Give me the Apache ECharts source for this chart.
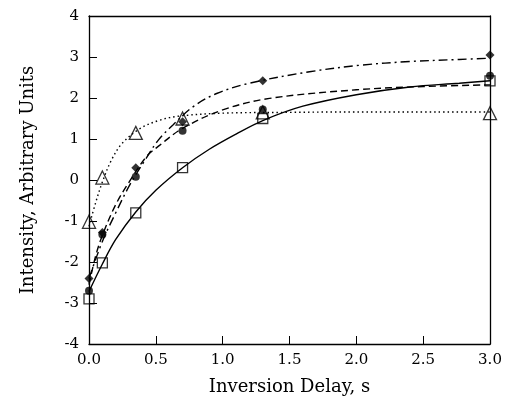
<!DOCTYPE html>
<html>
<head>
<meta charset="utf-8">
<script src="https://cdn.jsdelivr.net/npm/echarts@6/dist/echarts.min.js"></script>
<style>
  html, body { margin: 0; padding: 0; background: #fff; }
  #main { width: 506px; height: 401px; }
</style>
</head>
<body>
<div id="main"></div>
<script>
// measured delays (s)
var delays = [0, 0.1, 0.35, 0.7, 1.3, 3.0];

// measured intensities, one list per sample
var squares   = [-2.9, -2.02, -0.8, 0.3, 1.5, 2.42];
var circles   = [-2.7, -1.33, 0.08, 1.2, 1.72, 2.54];
var diamonds  = [-2.4, -1.28, 0.3, 1.42, 2.42, 3.05];
var triangles = [-1.02, 0.06, 1.15, 1.5, 1.65, 1.63];

// fitted curves as [delay, intensity]
var fitSolid = [[0, -2.72], [0.1, -2.05], [0.2, -1.45], [0.35, -0.78], [0.5, -0.25],
  [0.7, 0.3], [0.9, 0.75], [1.1, 1.12], [1.3, 1.45], [1.6, 1.8], [2.0, 2.08],
  [2.4, 2.27], [2.77, 2.36], [3.0, 2.42]];
var fitDashed = [[0, -2.55], [0.05, -1.85], [0.1, -1.35], [0.2, -0.6], [0.3, -0.05],
  [0.43, 0.57], [0.53, 0.85], [0.7, 1.26], [1.0, 1.71], [1.35, 1.99], [2.0, 2.2],
  [2.5, 2.28], [3.0, 2.32]];
var fitDashDot = [[0, -2.4], [0.1, -1.5], [0.2, -0.8], [0.3, -0.15], [0.42, 0.49],
  [0.52, 0.98], [0.63, 1.35], [0.78, 1.79], [0.955, 2.11], [1.2, 2.36], [1.65, 2.64],
  [2.03, 2.8], [2.4, 2.89], [2.77, 2.94], [3.0, 2.97]];
var fitDotted = [[0, -1.13], [0.05, -0.55], [0.1, -0.05], [0.17, 0.5], [0.25, 0.9],
  [0.38, 1.25], [0.53, 1.46], [0.68, 1.56], [1.0, 1.63], [1.5, 1.65], [2.0, 1.66],
  [3.0, 1.66]];

var xTicks = [0, 0.5, 1, 1.5, 2, 2.5, 3];

var ink = '#000';
var font = 'DejaVu Serif';

function pairs(ys) {
  return delays.map(function (x, i) { return [x, ys[i]]; });
}

function fitLine(data, type) {
  return {
    type: 'line', data: data, smooth: 0.35, showSymbol: false, silent: true,
    lineStyle: { color: ink, width: 1.4, type: type }, z: 2
  };
}

function markers(data, symbol, size, filled) {
  return {
    type: 'scatter', data: data, symbol: symbol, symbolSize: size, silent: true,
    itemStyle: {
      color: filled ? ink : 'rgba(0,0,0,0)',
      borderColor: ink, borderWidth: filled ? 0 : 1.3
    },
    z: 3
  };
}

var chart = echarts.init(document.getElementById('main'));
chart.setOption({
  animation: false,
  backgroundColor: '#fff',
  textStyle: { fontFamily: font, color: ink },
  grid: { left: 89, right: 16, top: 16, bottom: 57 },
  xAxis: [{
    type: 'value', min: 0, max: 3, interval: 0.5,
    name: 'Inversion Delay, s', nameLocation: 'middle', nameGap: 34,
    nameTextStyle: { fontFamily: font, fontSize: 18, color: ink },
    axisLine: { show: true, onZero: false, lineStyle: { color: ink, width: 1.3 } },
    axisTick: { inside: true, length: 8, lineStyle: { color: ink } },
    axisLabel: {
      fontFamily: font, fontSize: 15, color: ink, margin: 9,
      formatter: function (v) { return xTicks.indexOf(v) >= 0 ? v.toFixed(1) : ''; }
    },
    splitLine: { show: false }
  }, {
    type: 'value', min: 0, max: 3, position: 'top',
    axisLine: { show: true, onZero: false, lineStyle: { color: ink, width: 1.3 } },
    axisTick: { show: false }, axisLabel: { show: false }, splitLine: { show: false }
  }],
  yAxis: [{
    type: 'value', min: -4, max: 4, interval: 1,
    name: 'Intensity, Arbitrary Units', nameLocation: 'middle', nameGap: 52,
    nameTextStyle: { fontFamily: font, fontSize: 18, color: ink },
    axisLine: { show: true, onZero: false, lineStyle: { color: ink, width: 1.3 } },
    axisTick: { inside: true, length: 8, lineStyle: { color: ink } },
    axisLabel: { fontFamily: font, fontSize: 15, color: ink, margin: 10 },
    splitLine: { show: false }
  }, {
    type: 'value', min: -4, max: 4, position: 'right',
    axisLine: { show: true, onZero: false, lineStyle: { color: ink, width: 1.3 } },
    axisTick: { show: false }, axisLabel: { show: false }, splitLine: { show: false }
  }],
  series: [
    fitLine(fitSolid, 'solid'),
    fitLine(fitDashed, [7, 4]),
    fitLine(fitDashDot, [9, 4, 2, 4]),
    fitLine(fitDotted, [1.5, 3]),
    markers(pairs(squares), 'rect', 10, false),
    markers(pairs(triangles), 'triangle', 13, false),
    markers(pairs(circles), 'circle', 8, true),
    markers(pairs(diamonds), 'diamond', 9, true)
  ]
});
</script>
</body>
</html>
